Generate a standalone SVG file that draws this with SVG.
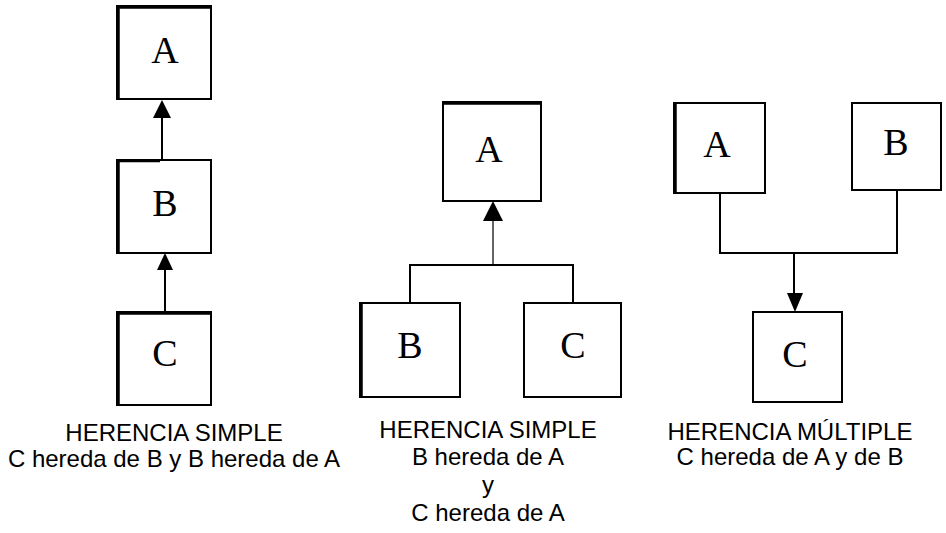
<svg xmlns="http://www.w3.org/2000/svg" width="946" height="533" viewBox="0 0 946 533">
<defs>
<style>
.box{fill:#fff;stroke:#000;stroke-width:2}
.thk{fill:none;stroke:#000;stroke-width:2.5}
.lbl{font-family:"Liberation Serif","Times New Roman",serif;font-size:38px;fill:#000;text-anchor:middle}
.cap{font-family:"Liberation Sans",Arial,sans-serif;font-size:24px;fill:#000;text-anchor:middle}
.con{fill:none;stroke:#000;stroke-width:2}
.thin{fill:none;stroke:#333;stroke-width:1.5}
.head{fill:#000;stroke:none}
</style>
</defs>
<rect width="946" height="533" fill="#fff"/>
<g id="connectors">
<path class="con" d="M162 118V160"/>
<polygon class="head" points="162,100 171,118 153,118"/>
<path class="con" d="M165 270V312"/>
<polygon class="head" points="165,253 173,270 157,270"/>
<path class="thin" d="M493 220V265"/>
<polygon class="head" points="493,201 503,221 483,221"/>
<path class="con" d="M410 303V265H573V303"/>
<path class="con" d="M720 193V253H897V190"/>
<path class="con" d="M794 253V294"/>
<polygon class="head" points="795,312 803,293 787,293"/>
</g>
<g id="simple1-A">
<rect class="box" x="117" y="6" width="94" height="93"/>
<path class="thk" d="M118.5 99V7.5H211"/>
<text class="lbl" x="165" y="63">A</text>
</g>
<g id="simple1-B">
<rect class="box" x="117" y="160" width="94" height="93"/>
<path class="thk" d="M118.5 253V161H160"/>
<text class="lbl" x="165" y="216">B</text>
</g>
<g id="simple1-C">
<rect class="box" x="117" y="312" width="94" height="93"/>
<path class="thk" d="M118.5 405V313.5H211"/>
<text class="lbl" x="165" y="366">C</text>
</g>
<g id="simple2-A">
<rect class="box" x="443" y="102" width="98" height="99"/>
<path class="thk" d="M443 103.5H541"/>
<text class="lbl" x="489" y="162">A</text>
</g>
<g id="simple2-B">
<rect class="box" x="360" y="303" width="100" height="94"/>
<path class="thk" d="M361.5 303V397"/>
<text class="lbl" x="410" y="358">B</text>
</g>
<g id="simple2-C">
<rect class="box" x="524" y="303" width="97" height="94"/>
<text class="lbl" x="573" y="358">C</text>
</g>
<g id="multi-A">
<rect class="box" x="674" y="103" width="91" height="90"/>
<path class="thk" d="M675.5 103V193"/>
<text class="lbl" x="717" y="157">A</text>
</g>
<g id="multi-B">
<rect class="box" x="852" y="103" width="89" height="87"/>
<text class="lbl" x="896" y="155">B</text>
</g>
<g id="multi-C">
<rect class="box" x="753" y="312" width="89" height="90"/>
<text class="lbl" x="795" y="367">C</text>
</g>
<g id="captions">
<text class="cap" x="174" y="441">HERENCIA SIMPLE</text>
<text class="cap" x="174" y="467">C hereda de B y B hereda de A</text>
<text class="cap" x="488" y="438">HERENCIA SIMPLE</text>
<text class="cap" x="488" y="465">B hereda de A</text>
<text class="cap" x="488" y="493">y</text>
<text class="cap" x="488" y="521">C hereda de A</text>
<text class="cap" x="790" y="440">HERENCIA MÚLTIPLE</text>
<text class="cap" x="790" y="465">C hereda de A y de B</text>
</g>
</svg>
